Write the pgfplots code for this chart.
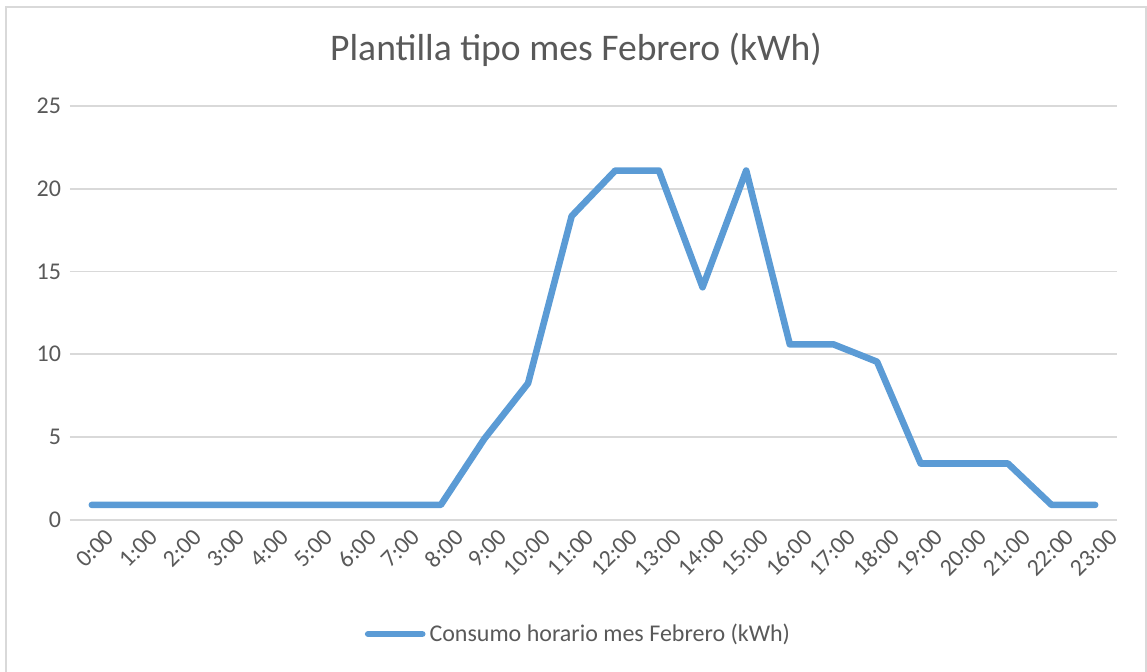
\documentclass[border=0pt]{standalone}
\usepackage{fontspec}
\setmainfont{Carlito}
\usepackage{pgfplots}
\pgfplotsset{compat=1.18}

\definecolor{serie}{HTML}{5B9BD5}
\definecolor{rejilla}{HTML}{D9D9D9}
\definecolor{texto}{HTML}{595959}

\begin{document}
\begin{tikzpicture}
% 1 px de la referencia = 0.5pt
\useasboundingbox (0,0) rectangle (573.5pt,335.5pt);
\draw[rejilla, line width=0.8pt] (3pt,-5pt) rectangle (573pt,332pt);

\begin{axis}[
  at={(35pt,75.6pt)}, anchor=south west,
  scale only axis,
  width=523.5pt, height=206.9pt,
  xmin=-0.5, xmax=23.5,
  ymin=0, ymax=25,
  ytick={0,5,10,15,20,25},
  xtick={0,...,23},
  xticklabels={0:00,1:00,2:00,3:00,4:00,5:00,6:00,7:00,8:00,9:00,10:00,11:00,
               12:00,13:00,14:00,15:00,16:00,17:00,18:00,19:00,20:00,21:00,22:00,23:00},
  axis line style={draw=none},
  major tick length=0pt,
  ymajorgrids,
  grid style={rejilla, line width=0.8pt},
  tick label style={font=\fontsize{12}{14}\selectfont, text=texto},
  /pgf/number format/assume math mode=true,
  xticklabel style={rotate=45, anchor=north east, inner sep=1pt, yshift=-6pt, xshift=3pt},
  yticklabel style={xshift=-1pt},
  legend style={at={(0.4866,-0.276)}, anchor=center, draw=none, fill=none,
                font=\fontsize{12}{14}\selectfont, text=texto,
                legend cell align=left,
                /tikz/every even column/.append style={column sep=0pt}},
  legend image code/.code={\draw[#1, line width=3.3pt, line cap=round] (0cm,0cm) -- (0.95cm,0cm);},
]
\addplot[serie, line width=3.3pt, line join=round, line cap=round] coordinates {
  (0,0.9) (1,0.9) (2,0.9) (3,0.9) (4,0.9) (5,0.9) (6,0.9) (7,0.9) (8,0.9)
  (9,4.9) (10,8.25) (11,18.35) (12,21.1) (13,21.1) (14,14.05) (15,21.1)
  (16,10.6) (17,10.6) (18,9.55) (19,3.4) (20,3.4) (21,3.4) (22,0.9) (23,0.9)
};
\addlegendentry{Consumo horario mes Febrero (kWh)}
\end{axis}

\node[text=texto, font=\fontsize{18.8}{22}\selectfont] at (288pt,310.5pt) {Plantilla tipo mes Febrero (kWh)};
\end{tikzpicture}
\end{document}
